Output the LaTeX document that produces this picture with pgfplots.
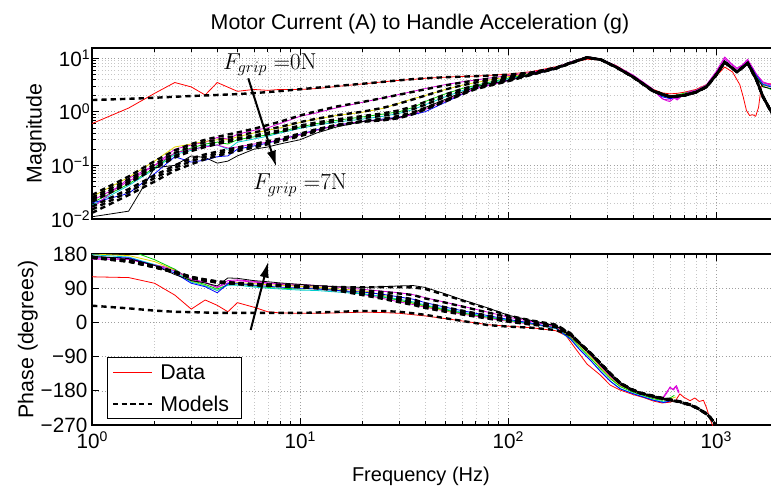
\documentclass[border=0pt]{standalone}
\usepackage[no-math]{fontspec}
\setmainfont{Liberation Sans}
\usepackage{pgfplots}
\pgfplotsset{compat=1.18}
\usepackage{pgfplotstable}
\usetikzlibrary{arrows.meta}

\definecolor{cR}{rgb}{1,0,0}
\definecolor{cY}{rgb}{0.88,0.84,0}
\definecolor{cG}{rgb}{0,0.82,0}
\definecolor{cC}{rgb}{0,0.8,0.8}
\definecolor{cB}{rgb}{0,0,1}
\definecolor{cM}{rgb}{0.85,0,0.85}
\definecolor{cK}{rgb}{0,0,0}

\newcommand{\tenpow}[1]{10\raisebox{5pt}{\fontsize{10.5}{12}\selectfont #1}}

% model magnitudes, grip force 0..7 N
\pgfplotstableread{
f    m0    m1    m2    m3    m4    m5    m6    m7
1    1.65  0.028 0.025 0.023 0.021 0.017 0.015 0.013
1.5  1.74  0.062 0.055 0.050 0.046 0.036 0.032 0.028
2    1.82  0.12  0.105 0.095 0.088 0.065 0.058 0.050
2.5  1.90  0.19  0.17  0.15  0.14  0.10  0.09  0.08
3    1.96  0.25  0.225 0.20  0.185 0.135 0.12  0.105
3.5  2.01  0.30  0.27  0.24  0.22  0.16  0.145 0.13
4    2.05  0.34  0.30  0.27  0.25  0.18  0.165 0.15
5    2.13  0.41  0.36  0.32  0.30  0.215 0.20  0.185
6    2.22  0.48  0.41  0.36  0.34  0.25  0.23  0.215
8    2.42  0.65  0.52  0.45  0.42  0.315 0.295 0.28
10   2.62  0.85  0.64  0.55  0.51  0.39  0.37  0.35
12   2.80  1.02  0.74  0.63  0.58  0.47  0.45  0.43
15   3.02  1.25  0.86  0.72  0.66  0.57  0.56  0.55
20   3.32  1.52  1.00  0.83  0.76  0.67  0.66  0.65
25   3.60  1.80  1.18  0.93  0.84  0.74  0.70  0.69
30   3.85  2.08  1.42  1.06  0.95  0.84  0.78  0.76
35   4.05  2.35  1.70  1.26  1.12  0.98  0.92  0.90
40   4.20  2.62  2.00  1.52  1.35  1.18  1.12  1.10
50   4.40  3.10  2.60  2.10  1.90  1.65  1.60  1.55
60   4.50  3.50  3.10  2.65  2.45  2.20  2.15  2.10
70   4.60  3.85  3.50  3.10  2.95  2.75  2.70  2.65
80   4.70  4.10  3.85  3.50  3.35  3.15  3.10  3.00
100  4.90  4.60  4.45  4.20  4.10  3.85  3.80  3.70
130  5.40  5.30  5.20  5.10  5.05  5.00  4.95  4.90
170  6.60  6.60  6.50  6.50  6.50  6.40  6.40  6.40
200  8.20  8.20  8.10  8.10  8.10  8.00  8.00  8.00
240  10.3  10.3  10.3  10.2  10.3  10.2  10.3  10.3
280  9.30  9.35  9.30  9.25  9.30  9.30  9.35  9.30
330  6.80  6.85  6.80  6.75  6.80  6.80  6.85  6.80
400  4.40  4.45  4.40  4.40  4.35  4.40  4.45  4.40
500  2.40  2.45  2.40  2.40  2.35  2.40  2.45  2.40
600  1.90  1.92  1.90  1.88  1.90  1.90  1.92  1.90
700  2.00  2.02  2.00  1.98  2.00  2.00  2.02  2.00
800  2.30  2.32  2.30  2.28  2.30  2.30  2.32  2.30
900  2.90  2.95  2.90  2.88  2.90  2.90  2.95  2.90
1000 4.80  4.90  4.80  4.75  4.80  4.80  4.90  4.80
1100 8.40  8.50  8.40  8.30  8.40  8.40  8.50  8.40
1260 5.50  5.55  5.50  5.45  5.50  5.50  5.55  5.50
1420 8.00  8.10  8.00  7.90  8.00  8.00  8.10  8.00
1560 4.00  4.05  4.00  3.95  4.00  4.00  4.05  4.00
1680 1.90  1.95  1.90  1.88  1.90  1.90  1.95  1.90
1840 1.00  1.02  1.00  0.98  1.00  1.00  1.02  1.00
2000 0.60  0.62  0.60  0.59  0.60  0.60  0.62  0.60
}\magmodels

% model phases (degrees), grip force 0..7 N
\pgfplotstableread{
f    p0   p1   p2   p3   p4   p5   p6   p7
1    44   170  170  171  171  172  172  173
1.5  37   160  160  161  161  162  162  163
2    31   145  145  146  146  147  147  148
2.5  28   131  131  132  132  133  133  134
3    27   117  117  118  118  119  119  120
3.5  26   110  110  111  111  112  112  113
4    25   105  105  106  106  107  107  108
5    25   101  101  102  102  103  103  104
6    25   98   98   99   99   100  100  101
8    25   96   96   97   97   98   98   99
10   25   93   93   94   94   95   95   96
12   26   90   91   91   92   93   94   95
15   28   84   86   87   88   89   91   93
20   30   72   75   77   79   81   85   92
25   30   62   65   68   71   74   80   93
30   28   53   56   60   63   67   76   93
35   24   46   49   53   56   61   72   92
40   20   38   40   43   46   50   63   88
50   11   28   30   33   36   40   52   72
60   4    21   23   26   28   31   42   58
80   -7   10   12   14   16   18   26   36
100  -11  2    4    5    6    8    14   18
130  -14  -6   -5   -4   -3   -2   2    5
170  -20  -12  -12  -11  -11  -10  -8   -6
200  -34  -32  -32  -31  -31  -31  -30  -29
221  -56  -55  -55  -54  -55  -55  -54  -55
250  -83  -82  -82  -81  -82  -82  -81  -82
277  -108 -107 -107 -106 -107 -107 -106 -107
310  -136 -135 -135 -134 -135 -135 -134 -135
346  -161 -160 -160 -159 -160 -160 -159 -160
390  -177 -176 -176 -175 -176 -176 -175 -176
432  -187 -186 -186 -185 -186 -186 -185 -186
540  -200 -199 -199 -198 -199 -199 -198 -199
670  -210 -209 -209 -208 -209 -209 -208 -209
760  -219 -218 -218 -217 -218 -218 -217 -218
840  -231 -230 -230 -229 -230 -230 -229 -230
920  -246 -245 -245 -244 -245 -245 -244 -245
1000 -271 -270 -270 -269 -270 -270 -269 -270
1050 -291 -290 -290 -289 -290 -290 -289 -290
}\phsmodels

\pgfplotsset{
  dat/.style={line width=0.6pt, line join=round},
  mdl/.style={black, line width=1.8pt, dash pattern=on 4pt off 3pt},
}

\begin{document}
\begin{tikzpicture}

% ---------------- magnitude ----------------
\begin{axis}[
  xmode=log, ymode=log,
  scale only axis, width=515pt, height=128.25pt,
  at={(69pt,-164.25pt)}, anchor=south west,
  xmin=1, xmax=2000, ymin=0.01, ymax=15.4,
  tick align=inside,
  major tick length=5pt, minor tick length=2.8pt,
  every tick/.style={black, line width=0.5pt},
  axis line style={black, line width=0.9pt},
  xmajorgrids, xminorgrids, ymajorgrids, yminorgrids,
  major grid style={gray!75, line width=0.4pt, dash pattern=on 0.8pt off 1.6pt},
  minor grid style={gray!45, line width=0.4pt, dash pattern=on 0.8pt off 1.6pt},
  xtick={1,10,100,1000},
  minor xtick={2,3,4,5,6,7,8,9,20,30,40,50,60,70,80,90,200,300,400,500,600,700,800,900,2000},
  xticklabels={},
  ytick={0.01,0.1,1,10},
  yticklabels={\tenpow{−2},\tenpow{−1},\tenpow{0},\tenpow{1}},
  minor ytick={0.02,0.03,0.04,0.05,0.06,0.07,0.08,0.09,0.2,0.3,0.4,0.5,0.6,0.7,0.8,0.9,2,3,4,5,6,7,8,9},
  tick label style={font=\fontsize{15.5}{18}\selectfont},
  yticklabel style={inner xsep=1.5pt},
  ylabel={Magnitude},
  ylabel style={font=\fontsize{16}{19}\selectfont, at={(axis description cs:-0.0732,0.5)}, anchor=base},
]
% measured responses
\addplot[dat, cR] coordinates {(1,0.6) (1.5,1.17) (2,2.2) (2.5,3.5) (3,2.9) (3.5,2.05) (4,3.5) (5,2.4) (6,2.6) (7,2.5) (8,2.6) (10,2.6) (12,2.7) (15,2.95) (20,3.3) (25,3.6) (30,3.85) (35,4.0) (40,4.2) (50,4.4) (60,4.55) (70,4.6) (80,4.75) (100,5.0) (130,5.6) (170,6.9) (200,8.1) (240,9.5) (280,9.2) (330,7.3) (400,4.7) (450,3.4) (500,2.6) (550,2.25) (600,2.15) (650,2.2) (700,2.3) (800,2.6) (900,3.2) (1000,4.6) (1100,6.8) (1200,5.5) (1300,3.2) (1350,1.9) (1400,1.05) (1450,0.85) (1500,0.88) (1550,0.82) (1600,1.2) (1650,3.0) (1700,3.3) (1840,3.3) (2000,3.4)};
\addplot[dat, cM] coordinates {(1,0.022) (1.5,0.05) (2,0.1) (2.5,0.2) (3,0.24) (3.5,0.27) (4,0.33) (4.5,0.31) (5,0.38) (6,0.45) (7,0.5) (8,0.6) (10,0.82) (12,0.95) (15,1.18) (20,1.5) (25,1.8) (30,2.1) (35,2.4) (40,2.7) (50,3.2) (60,3.6) (70,3.9) (80,4.2) (100,4.7) (130,5.4) (170,6.7) (200,8.5) (240,10.6) (280,9.6) (330,7.2) (400,4.8) (450,3.5) (500,2.6) (530,2.0) (560,1.7) (600,1.65) (620,1.9) (650,1.75) (700,2.2) (750,2.4) (800,2.5) (900,3.2) (1000,5.6) (1100,10.5) (1180,8.0) (1260,6.5) (1340,7.5) (1420,9.5) (1500,6.5) (1560,5.0) (1680,3.6) (1840,3.2) (2000,3.1)};
\addplot[dat, cY] coordinates {(1,0.026) (1.5,0.06) (2,0.12) (2.5,0.22) (3,0.25) (3.5,0.28) (4,0.3) (4.5,0.3) (5,0.34) (6,0.4) (7,0.45) (8,0.5) (10,0.63) (12,0.73) (15,0.85) (20,0.98) (25,1.15) (30,1.45) (35,1.75) (40,2.0) (50,2.6) (60,3.1) (70,3.5) (80,3.85) (100,4.5) (130,5.2) (170,6.5) (200,8.2) (240,10.2) (280,9.3) (330,6.9) (400,4.5) (450,3.2) (500,2.4) (550,2.05) (600,1.9) (650,2.0) (700,2.15) (800,2.45) (900,3.1) (1000,4.8) (1100,8.0) (1200,6.2) (1260,5.3) (1340,6.8) (1420,7.6) (1500,5.9) (1560,4.5) (1680,3.1) (1840,2.9) (2000,2.9)};
\addplot[dat, cG] coordinates {(1,0.02) (1.5,0.045) (2,0.09) (2.5,0.17) (3,0.21) (3.5,0.25) (4,0.27) (4.5,0.25) (5,0.3) (6,0.34) (7,0.37) (8,0.42) (10,0.52) (12,0.6) (15,0.69) (20,0.8) (25,0.9) (30,1.0) (35,1.2) (40,1.55) (50,2.15) (60,2.7) (70,3.1) (80,3.5) (100,4.2) (130,5.1) (170,6.5) (200,8.1) (240,10.1) (280,9.2) (330,6.9) (400,4.5) (450,3.3) (500,2.5) (550,2.1) (600,1.95) (650,2.05) (700,2.2) (800,2.5) (900,3.1) (1000,5.1) (1100,8.6) (1200,6.6) (1260,5.6) (1340,6.9) (1420,8.0) (1500,6.2) (1560,4.7) (1680,3.0) (1840,2.6) (2000,2.6)};
\addplot[dat, cC] coordinates {(1,0.018) (1.5,0.042) (2,0.085) (2.5,0.16) (3,0.19) (3.5,0.23) (4,0.24) (4.5,0.2) (5,0.27) (6,0.31) (7,0.35) (8,0.4) (10,0.49) (12,0.56) (15,0.64) (20,0.73) (25,0.82) (30,0.93) (35,1.1) (40,1.35) (50,1.9) (60,2.45) (70,2.95) (80,3.35) (100,4.1) (130,5.0) (170,6.4) (200,8.0) (240,10.0) (280,9.1) (330,6.8) (400,4.4) (450,3.2) (500,2.4) (550,1.95) (600,1.8) (650,1.9) (700,2.05) (800,2.35) (900,3.0) (1000,5.0) (1100,8.7) (1200,6.5) (1260,5.5) (1340,7.0) (1420,8.2) (1500,6.3) (1560,4.8) (1680,3.3) (1840,3.0) (2000,3.0)};
\addplot[dat, cB] coordinates {(1,0.02) (1.5,0.03) (2,0.07) (2.5,0.145) (3,0.115) (3.5,0.125) (4,0.145) (4.5,0.15) (5,0.2) (6,0.23) (7,0.26) (8,0.3) (10,0.38) (12,0.46) (15,0.56) (20,0.66) (25,0.73) (30,0.8) (35,0.88) (40,1.0) (50,1.5) (60,2.1) (70,2.7) (80,3.1) (100,3.9) (130,4.9) (170,6.3) (200,8.0) (240,10.1) (280,9.2) (330,6.9) (400,4.5) (450,3.25) (500,2.45) (550,1.9) (600,1.75) (650,1.85) (700,2.0) (800,2.35) (900,2.95) (1000,5.1) (1100,8.9) (1200,6.7) (1260,5.7) (1340,7.1) (1420,8.4) (1500,6.4) (1560,4.9) (1680,3.2) (1840,2.9) (2000,2.9)};
\addplot[dat, cM] coordinates {(1,0.016) (1.5,0.057) (2,0.1) (2.5,0.17) (3,0.2) (3.5,0.22) (4,0.24) (4.5,0.21) (5,0.22) (6,0.25) (7,0.27) (8,0.3) (10,0.37) (12,0.45) (15,0.56) (20,0.66) (25,0.7) (30,0.76) (35,0.9) (40,1.1) (50,1.6) (60,2.15) (70,2.7) (80,3.05) (100,3.8) (130,5.0) (170,6.5) (200,8.3) (240,10.5) (280,9.5) (330,7.1) (400,4.7) (450,3.4) (500,2.5) (550,1.75) (580,1.6) (600,1.55) (630,1.8) (650,1.65) (700,2.1) (750,2.35) (800,2.5) (900,3.1) (1000,5.4) (1100,9.8) (1180,7.6) (1260,6.2) (1340,7.4) (1420,9.0) (1500,6.6) (1560,5.1) (1680,3.5) (1840,3.1) (2000,3.0)};
\addplot[dat, cK] coordinates {(1,0.011) (1.5,0.014) (2,0.09) (2.5,0.1) (3,0.15) (3.5,0.14) (4,0.11) (4.5,0.12) (5,0.15) (6,0.2) (7,0.22) (8,0.25) (10,0.3) (12,0.4) (15,0.52) (20,0.66) (25,0.7) (30,0.78) (35,0.95) (40,1.2) (50,1.7) (60,2.3) (70,2.9) (80,3.3) (100,3.8) (130,4.9) (170,6.3) (200,8.1) (240,10.3) (280,9.3) (330,6.9) (400,4.5) (450,3.3) (500,2.45) (550,2.0) (600,1.85) (650,1.95) (700,2.1) (800,2.4) (900,3.0) (1000,5.0) (1100,8.6) (1200,6.2) (1260,5.5) (1340,6.8) (1420,8.1) (1500,6.0) (1560,4.4) (1680,2.9) (1840,2.7) (2000,2.7)};
% fitted models
\addplot[mdl] table[x=f, y=m0] {\magmodels};
\addplot[mdl] table[x=f, y=m1] {\magmodels};
\addplot[mdl] table[x=f, y=m2] {\magmodels};
\addplot[mdl] table[x=f, y=m3] {\magmodels};
\addplot[mdl] table[x=f, y=m4] {\magmodels};
\addplot[mdl] table[x=f, y=m5] {\magmodels};
\addplot[mdl] table[x=f, y=m6] {\magmodels};
\addplot[mdl] table[x=f, y=m7] {\magmodels};
% grip force annotation
\draw[black, line width=1.5pt, -{Latex[length=12pt, width=7pt]}] (axis cs:5.64,4.19) -- (axis cs:7.69,0.0944);
\node[font=\fontsize{17}{20}\selectfont, inner sep=0.5pt] at (axis cs:7.17,7.6) {$F_{grip}\;{=}0\mathrm{N}$};
\node[font=\fontsize{17}{20}\selectfont, inner sep=0.5pt] at (axis cs:10,0.043) {$F_{grip}\;{=}7\mathrm{N}$};
\end{axis}

% ---------------- phase ----------------
\begin{axis}[
  xmode=log,
  scale only axis, width=515pt, height=128.25pt,
  at={(69pt,-318.75pt)}, anchor=south west,
  xmin=1, xmax=2000, ymin=-270, ymax=180,
  tick align=inside,
  major tick length=5pt, minor tick length=2.8pt,
  every tick/.style={black, line width=0.5pt},
  axis line style={black, line width=0.9pt},
  xmajorgrids, xminorgrids, ymajorgrids,
  major grid style={gray!75, line width=0.4pt, dash pattern=on 0.8pt off 1.6pt},
  minor grid style={gray!45, line width=0.4pt, dash pattern=on 0.8pt off 1.6pt},
  xtick={1,10,100,1000},
  minor xtick={2,3,4,5,6,7,8,9,20,30,40,50,60,70,80,90,200,300,400,500,600,700,800,900,2000},
  xticklabels={\tenpow{0},\tenpow{1},\tenpow{2},\tenpow{3}},
  ytick={-270,-180,-90,0,90,180},
  yticklabels={−270,−180,−90,0,90,180},
  tick label style={font=\fontsize{15.5}{18}\selectfont},
  yticklabel style={inner ysep=0pt},
  xticklabel style={yshift=-1.5pt},
  ylabel={Phase (degrees)},
  ylabel style={font=\fontsize{16}{19}\selectfont, at={(axis description cs:-0.0855,0.5)}, anchor=base},
  xlabel={Frequency (Hz)},
  xlabel style={font=\fontsize{15}{18}\selectfont, at={(axis description cs:0.479,0)}, anchor=base, yshift=-42.5pt},
]
% measured responses
\addplot[dat, cR] coordinates {(1,120) (1.5,118) (2,103) (2.5,72) (3,35) (3.5,59) (4,45) (4.5,28) (5,52) (6,40) (7,28) (8,25) (10,24) (12,24) (15,25) (20,27) (25,26) (30,24) (40,17) (50,10) (60,4) (80,-6) (100,-10) (130,-14) (170,-22) (190,-35) (213,-72) (240,-110) (277,-138) (310,-165) (346,-178) (400,-190) (450,-198) (500,-207) (550,-212) (600,-210) (640,-205) (670,-188) (700,-197) (750,-206) (790,-199) (830,-208) (870,-205) (900,-225) (930,-250) (960,-270) (1000,-290)};
\addplot[dat, cM] coordinates {(1,166) (1.5,166) (2,152) (2.5,140) (3,112) (3.5,104) (4,92) (4.5,104) (5,110) (6,106) (7,103) (8,100) (10,96) (12,92) (15,85) (20,74) (25,63) (30,54) (35,47) (40,40) (50,30) (60,22) (80,11) (100,3) (130,-5) (170,-14) (200,-38) (222,-60) (250,-88) (277,-115) (310,-143) (346,-165) (400,-180) (450,-190) (500,-199) (550,-203) (580,-186) (600,-170) (620,-176) (640,-168) (660,-186)};
\addplot[dat, cY] coordinates {(1,180) (1.2,178) (1.5,176) (2,160) (2.5,138) (3,108) (3.5,97) (4,84) (4.5,100) (5,105) (6,102) (7,99) (8,98) (10,95) (12,93) (15,88) (20,84) (25,72) (30,58) (35,50) (40,42) (50,31) (60,24) (80,13) (100,5) (130,-4) (170,-13) (200,-39) (222,-61) (250,-90) (277,-117) (310,-145) (346,-167) (400,-181) (450,-191) (500,-200) (550,-204) (600,-202) (640,-196)};
\addplot[dat, cG] coordinates {(1,196) (1.5,190) (2,165) (2.5,140) (3,110) (3.5,100) (4,88) (4.5,99) (5,101) (6,96) (7,92) (8,90) (10,88) (12,89) (15,84) (20,76) (25,67) (30,58) (35,51) (40,44) (50,33) (60,25) (80,14) (100,5) (130,-4) (170,-15) (200,-41) (222,-66) (250,-95) (277,-121) (310,-148) (346,-169) (400,-184) (450,-193) (500,-201) (550,-205) (600,-199) (630,-192)};
\addplot[dat, cC] coordinates {(1,178) (1.5,172) (2,152) (2.5,134) (3,106) (3.5,96) (4,84) (4.5,98) (5,98) (6,93) (7,90) (8,88) (10,85) (12,84) (15,80) (20,75) (25,68) (30,61) (35,54) (40,46) (50,35) (60,27) (80,15) (100,6) (130,-3) (170,-16) (200,-45) (222,-72) (250,-100) (277,-127) (310,-154) (346,-174) (400,-187) (450,-196) (500,-204) (560,-209) (600,-205)};
\addplot[dat, cB] coordinates {(1,172) (1.5,170) (2,150) (2.5,130) (3,103) (3.5,94) (4,78) (4.5,102) (5,103) (6,98) (7,95) (8,93) (10,90) (12,88) (15,84) (20,80) (25,74) (30,67) (35,61) (40,52) (50,40) (60,31) (80,18) (100,8) (130,-2) (170,-15) (200,-44) (222,-73) (250,-101) (277,-128) (310,-155) (346,-175) (400,-188) (450,-197) (500,-205) (560,-211) (600,-207)};
\addplot[dat, cM] coordinates {(1,168) (1.5,166) (2,150) (2.5,136) (3,114) (3.5,106) (4,92) (4.5,110) (5,112) (6,108) (7,104) (8,102) (10,100) (12,97) (15,93) (20,87) (25,82) (30,78) (35,73) (40,65) (50,53) (60,43) (80,27) (100,14) (130,2) (170,-11) (200,-36) (222,-58) (250,-86) (277,-113) (310,-141) (346,-164) (400,-179) (450,-189) (500,-198) (550,-201) (580,-182) (600,-172) (625,-178) (645,-166) (665,-184)};
\addplot[dat, cK] coordinates {(1,174) (1.5,168) (2,150) (2.5,126) (3,110) (3.5,104) (4,96) (4.5,117) (5,116) (6,110) (7,107) (8,104) (10,100) (12,97) (15,94) (20,92) (25,94) (30,96) (35,97) (40,92) (50,75) (60,60) (80,38) (100,19) (130,5) (170,-9) (200,-34) (222,-57) (250,-85) (277,-111) (310,-139) (346,-162) (400,-178) (450,-188) (500,-197) (550,-201) (600,-199)};
% fitted models
\addplot[mdl] table[x=f, y=p0] {\phsmodels};
\addplot[mdl] table[x=f, y=p1] {\phsmodels};
\addplot[mdl] table[x=f, y=p2] {\phsmodels};
\addplot[mdl] table[x=f, y=p3] {\phsmodels};
\addplot[mdl] table[x=f, y=p4] {\phsmodels};
\addplot[mdl] table[x=f, y=p5] {\phsmodels};
\addplot[mdl] table[x=f, y=p6] {\phsmodels};
\addplot[mdl] table[x=f, y=p7] {\phsmodels};
% grip force annotation
\draw[black, line width=1.5pt, -{Latex[length=12pt, width=7pt]}] (axis cs:5.79,-20) -- (axis cs:7.04,160);
\end{axis}

% legend box for the phase panel
\draw[black, line width=0.6pt, fill=white] (80.25pt,-267.75pt) rectangle (180.75pt,-313.5pt);
\draw[cR, line width=0.7pt] (84.75pt,-279.2pt) -- (114pt,-279.2pt);
\draw[black, line width=1.3pt, dash pattern=on 4pt off 2.5pt] (84.75pt,-303pt) -- (114pt,-303pt);
\node[anchor=base west, inner sep=0pt, font=\fontsize{16}{19}\selectfont] at (120pt,-284.9pt) {Data};
\node[anchor=base west, inner sep=0pt, font=\fontsize{16}{19}\selectfont] at (120pt,-308.7pt) {Models};

\node[anchor=base, font=\fontsize{16}{19}\selectfont] at (315pt,-21.75pt) {Motor Current (A) to Handle Acceleration (g)};

\pgfresetboundingbox
\path[use as bounding box] (0pt,0pt) rectangle (578.25pt,-366.75pt);
\end{tikzpicture}
\end{document}
